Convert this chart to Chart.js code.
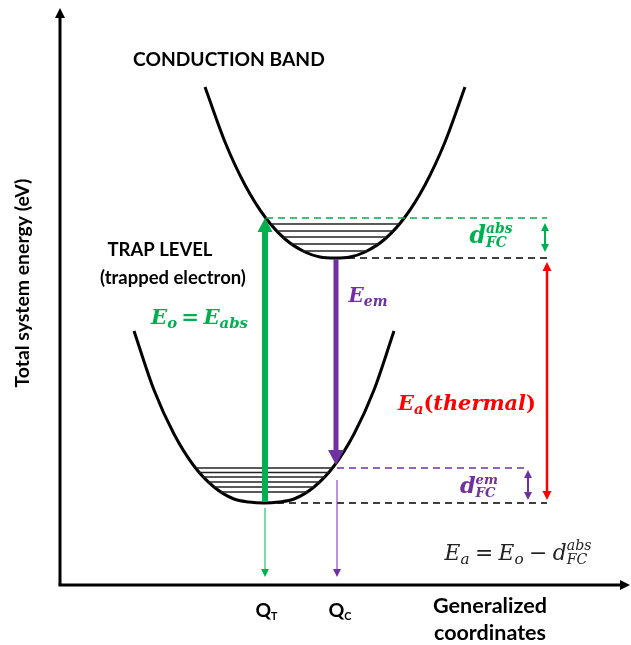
<!DOCTYPE html>
<html><head><meta charset="utf-8">
<script src="https://cdn.jsdelivr.net/npm/chart.js@4.4.1/dist/chart.umd.min.js"></script>
<style>html,body{margin:0;padding:0;background:#fff;}canvas{display:block;}</style>
</head><body>
<canvas id="c" width="631" height="645"></canvas>
<script>
// ---- data (abstract units: generalized coordinate Q, total energy E) ----
const upperX = [14.5,16.5,18.5,20.5,22.5,24.5,26.0,27.5,29.0,30.5,32.5,34.5,36.5,38.5,40.5];
const upperY = [49.8,44.3,40.0,36.8,34.6,33.3,32.8,32.7,32.8,33.3,34.6,36.8,40.0,44.3,49.8];
const lowerX = [7.4,9.4,11.4,13.4,15.4,17.4,18.9,20.4,21.9,23.4,25.4,27.4,29.4,31.4,33.4];
const lowerY = [25.4,19.5,15.1,11.9,9.8,8.6,8.3,8.2,8.3,8.6,9.8,11.9,15.1,19.5,25.4];
const upperLevelE = [36.1,35.4,34.8,34.1,33.4];
const upperLevelL = [21.1,21.7,22.3,23.1,24.3];
const upperLevelR = [33.9,33.3,32.7,31.9,30.7];
const lowerLevelE = [11.7,11.25,10.8,10.3,9.8,9.3];
const lowerLevelL = [13.6,13.9,14.3,14.8,15.4,16.1];
const lowerLevelR = [27.2,26.9,26.5,26.0,25.4,24.7];
const Q_T = 20.5, Q_C = 27.6;
const E_trapMin = 8.2, E_cbMin = 32.7, E_absTop = 36.7, E_emEnd = 11.7;
const Q_right = 48.7, Q_em = 46.8;
const Q_max = 57.0, E_max = 57.7;
const textLabels = ['CONDUCTION BAND','TRAP LEVEL','(trapped electron)'];
const axisTitles = ['Total system energy (eV)','Generalized','coordinates'];

const GREEN='#00b050', PURPLE='#7030a0', RED='#ff0000';
const SERIF='"DejaVu Serif", serif';
const SANS='Lato, "Open Sans", sans-serif';

const pts = (xs, ys) => xs.map((x,i)=>({x, y: ys[i]}));
const datasets = [];
// vibrational levels
upperLevelE.forEach((e,i)=>datasets.push({data:[{x:upperLevelL[i],y:e},{x:upperLevelR[i],y:e}],borderColor:'#222',borderWidth:1.3}));
lowerLevelE.forEach((e,i)=>datasets.push({data:[{x:lowerLevelL[i],y:e},{x:lowerLevelR[i],y:e}],borderColor:'#222',borderWidth:1.3}));
// dashed reference lines
datasets.push({data:[{x:Q_T+0.1,y:E_absTop},{x:Q_right,y:E_absTop}],borderColor:GREEN,borderWidth:1.5,borderDash:[7,5]});
datasets.push({data:[{x:Q_C,y:E_cbMin},{x:Q_right,y:E_cbMin}],borderColor:'#000',borderWidth:1.5,borderDash:[7,5]});
datasets.push({data:[{x:Q_C+0.1,y:E_emEnd},{x:Q_em,y:E_emEnd}],borderColor:PURPLE,borderWidth:1.5,borderDash:[7,5]});
datasets.push({data:[{x:Q_T,y:E_trapMin},{x:Q_right,y:E_trapMin}],borderColor:'#000',borderWidth:1.5,borderDash:[7,5]});
// potential curves
datasets.push({data:pts(upperX,upperY),borderColor:'#000',borderWidth:3,cubicInterpolationMode:'monotone'});
datasets.push({data:pts(lowerX,lowerY),borderColor:'#000',borderWidth:3,cubicInterpolationMode:'monotone'});
// arrows (drawn by plugin from scaled points)
const arrow = (data,color,w,head,hw,start,end)=>({data,borderColor:color,showLine:false,arrow:{w,head,hw,start,end}});
datasets.push(arrow([{x:0,y:0},{x:0,y:E_max}],'#000',3,10,5,false,true));
datasets.push(arrow([{x:-0.15,y:0},{x:Q_max,y:0}],'#000',3,10,5,false,true));
datasets.push(arrow([{x:Q_T,y:E_trapMin+0.1},{x:Q_T,y:E_absTop}],GREEN,6,14,7.5,false,true));
datasets.push(arrow([{x:Q_C,y:E_cbMin-0.1},{x:Q_C,y:E_emEnd+0.3}],PURPLE,5,15,8,false,true));
datasets.push(arrow([{x:Q_right,y:E_cbMin-0.4},{x:Q_right,y:E_trapMin+0.3}],RED,2.5,9,4.5,true,true));
datasets.push(arrow([{x:Q_right-0.2,y:E_absTop-0.5},{x:Q_right-0.2,y:E_cbMin+0.6}],GREEN,2,8,4,true,true));
datasets.push(arrow([{x:Q_em,y:E_emEnd-0.2},{x:Q_em,y:E_trapMin+0.3}],PURPLE,2,8,4,true,true));
datasets.push(arrow([{x:Q_T,y:E_trapMin-0.5},{x:Q_T,y:0.8}],GREEN,1,8,4,false,true));
datasets.push(arrow([{x:Q_C+0.1,y:E_emEnd-1.2},{x:Q_C+0.1,y:0.8}],PURPLE,1,8,4,false,true));

function fnt(st,s,fam){return `${st} ${s}px ${fam}`;}
function itemW(ctx,it,k){ctx.font=fnt(it.st,it.s*k,it.fam);
  if(it.t!==undefined) return ctx.measureText(it.t).width+(it.gap||0)*k;
  return Math.max(ctx.measureText(it.sup||'').width,ctx.measureText(it.sub||'').width)+(it.gap||0)*k;}
function drawRich(ctx,items,x,y,fitW,color){
  let w=items.reduce((a,it)=>a+itemW(ctx,it,1),0), k=1;
  if(fitW){k=fitW/w; w=fitW;}
  let cx=x-w/2;
  ctx.fillStyle=color; ctx.textBaseline='alphabetic'; ctx.textAlign='left';
  items.forEach(it=>{
    const iw=itemW(ctx,it,k); ctx.font=fnt(it.st,it.s*k,it.fam);
    if(it.t!==undefined) ctx.fillText(it.t,cx,y+(it.dy||0)*k);
    else{ if(it.sup) ctx.fillText(it.sup,cx,y+it.supDy*k); if(it.sub) ctx.fillText(it.sub,cx,y+it.subDy*k); }
    cx+=iw;
  });
}
const BI='bold italic', B='bold', I='italic', N='normal';
const annotations = [
  {x:16.9,y:51.9,w:192,c:'#000',items:[{t:textLabels[0],st:B,s:18,fam:SANS}]},
  {x:10.0,y:32.9,w:105,c:'#000',items:[{t:textLabels[1],st:B,s:18,fam:SANS}]},
  {x:11.3,y:30.1,w:146,c:'#000',items:[{t:textLabels[2],st:B,s:18,fam:SANS}]},
  {x:43.0,y:-2.8,w:114,c:'#000',items:[{t:axisTitles[1],st:B,s:18,fam:SANS}]},
  {x:43.0,y:-5.5,w:112,c:'#000',items:[{t:axisTitles[2],st:B,s:18,fam:SANS}]},
  {x:20.65,y:-3.2,w:22,c:'#000',items:[{t:'Q',st:B,s:20,fam:SANS},{t:'T',st:B,s:11,fam:SANS,dy:3}]},
  {x:28.0,y:-3.2,w:23,c:'#000',items:[{t:'Q',st:B,s:20,fam:SANS},{t:'C',st:B,s:11,fam:SANS,dy:3}]},
  {x:13.95,y:26.15,w:97,c:GREEN,items:[{t:'E',st:BI,s:20,fam:SERIF},{t:'o',st:BI,s:14,fam:SERIF,dy:4,gap:4},{t:'=',st:B,s:20,fam:SERIF,gap:4},{t:'E',st:BI,s:20,fam:SERIF},{t:'abs',st:BI,s:14,fam:SERIF,dy:4}]},
  {x:30.8,y:28.35,w:39,c:PURPLE,items:[{t:'E',st:BI,s:20,fam:SERIF},{t:'em',st:BI,s:14,fam:SERIF,dy:4}]},
  {x:40.7,y:17.5,w:138,c:RED,items:[{t:'E',st:BI,s:20,fam:SERIF},{t:'a',st:BI,s:14,fam:SERIF,dy:4},{t:'(',st:B,s:20,fam:SERIF},{t:'thermal',st:BI,s:20,fam:SERIF},{t:')',st:B,s:20,fam:SERIF}]},
  {x:43.1,y:34.2,w:43,c:GREEN,items:[{t:'d',st:BI,s:22,fam:SERIF},{sup:'abs',sub:'FC',st:BI,s:13,fam:SERIF,supDy:-9,subDy:4}]},
  {x:41.9,y:9.2,w:38,c:PURPLE,items:[{t:'d',st:BI,s:22,fam:SERIF},{sup:'em',sub:'FC',st:BI,s:13,fam:SERIF,supDy:-9,subDy:4}]},
  {x:45.8,y:2.5,w:147,c:'#222',items:[{t:'E',st:I,s:20,fam:SERIF},{t:'a',st:I,s:14,fam:SERIF,dy:4,gap:5},{t:'=',st:N,s:20,fam:SERIF,gap:5},{t:'E',st:I,s:20,fam:SERIF},{t:'o',st:I,s:14,fam:SERIF,dy:4,gap:5},{t:'\u2212',st:N,s:20,fam:SERIF,gap:5},{t:'d',st:I,s:20,fam:SERIF},{sup:'abs',sub:'FC',st:I,s:13,fam:SERIF,supDy:-9,subDy:4}]},
];

const arrowPlugin = {
  id:'arrows',
  afterDatasetsDraw(chart){
    const ctx=chart.ctx;
    chart.data.datasets.forEach((ds,i)=>{
      if(!ds.arrow) return;
      const m=chart.getDatasetMeta(i), a=ds.arrow;
      const p0={x:m.data[0].x,y:m.data[0].y}, p1={x:m.data[1].x,y:m.data[1].y};
      const L=Math.hypot(p1.x-p0.x,p1.y-p0.y), ux=(p1.x-p0.x)/L, uy=(p1.y-p0.y)/L;
      const s={x:p0.x+(a.start?ux*(a.head-1):0),y:p0.y+(a.start?uy*(a.head-1):0)};
      const e={x:p1.x-(a.end?ux*(a.head-1):0),y:p1.y-(a.end?uy*(a.head-1):0)};
      ctx.save();
      ctx.strokeStyle=ds.borderColor; ctx.fillStyle=ds.borderColor; ctx.lineWidth=a.w; ctx.lineCap='butt';
      ctx.beginPath(); ctx.moveTo(s.x,s.y); ctx.lineTo(e.x,e.y); ctx.stroke();
      const head=(tip,dx,dy)=>{ctx.beginPath();ctx.moveTo(tip.x,tip.y);
        ctx.lineTo(tip.x-dx*a.head-dy*a.hw,tip.y-dy*a.head+dx*a.hw);
        ctx.lineTo(tip.x-dx*a.head+dy*a.hw,tip.y-dy*a.head-dx*a.hw);ctx.closePath();ctx.fill();};
      if(a.end) head(p1,ux,uy);
      if(a.start) head(p0,-ux,-uy);
      ctx.restore();
    });
  },
  afterDraw(chart){
    const ctx=chart.ctx, xs=chart.scales.x, ys=chart.scales.y;
    annotations.forEach(an=>drawRich(ctx,an.items,xs.getPixelForValue(an.x),ys.getPixelForValue(an.y),an.w,an.c));
    ctx.save();
    ctx.translate(xs.getPixelForValue(-3.15),ys.getPixelForValue(30.2));
    ctx.rotate(-Math.PI/2);
    drawRich(ctx,[{t:axisTitles[0],st:B,s:17,fam:SANS}],0,0,209,'#000');
    ctx.restore();
  }
};

new Chart(document.getElementById('c'),{
  type:'scatter',
  data:{datasets:datasets.map(d=>Object.assign({showLine:true,pointRadius:0,clip:false,fill:false},d))},
  options:{
    responsive:false,animation:false,
    layout:{padding:{left:60,right:3,top:8,bottom:60}},
    plugins:{legend:{display:false},tooltip:{enabled:false}},
    elements:{point:{radius:0}},
    scales:{x:{type:'linear',min:0,max:56.8,display:false},y:{type:'linear',min:0,max:E_max,display:false}}
  },
  plugins:[arrowPlugin]
});
</script>
</body></html>
